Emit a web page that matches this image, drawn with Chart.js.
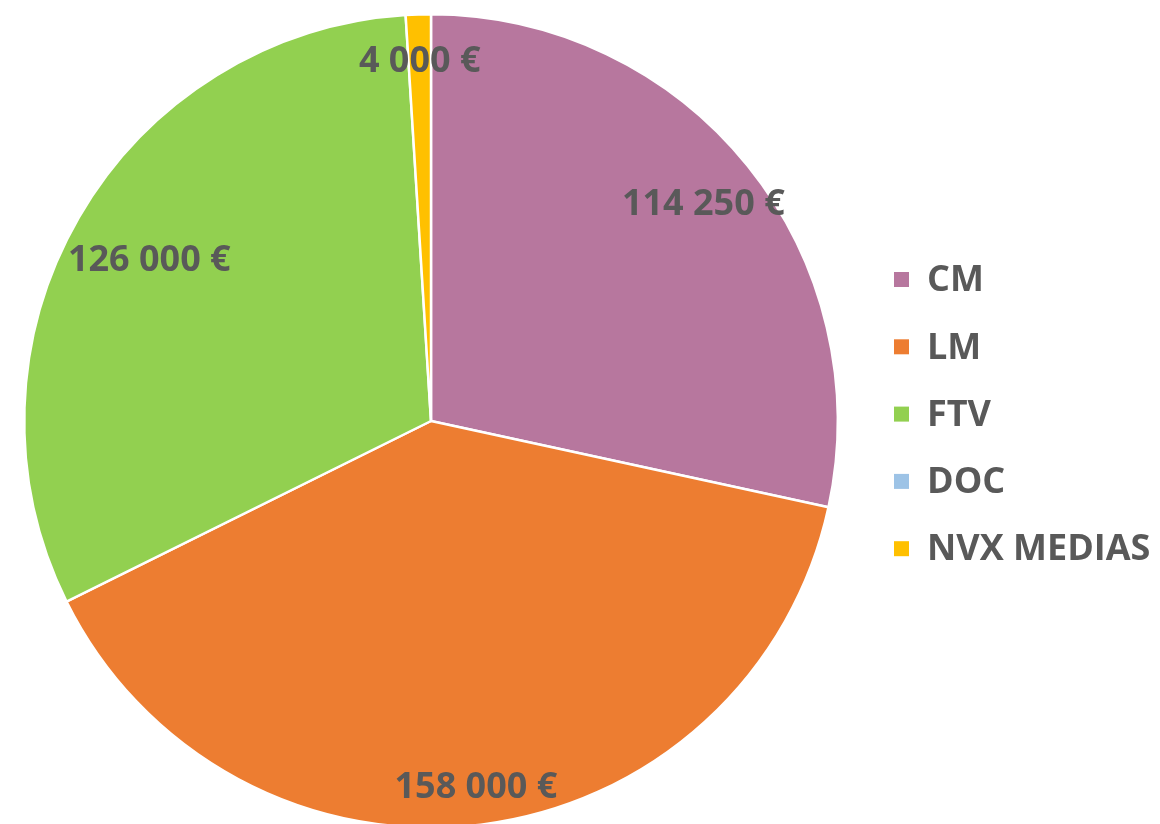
<!DOCTYPE html>
<html>
<head>
<meta charset="utf-8">
<script src="https://cdn.jsdelivr.net/npm/chart.js@4/dist/chart.umd.min.js"></script>
<style>
  html, body { margin: 0; padding: 0; background: #ffffff; overflow: hidden; }
  canvas { display: block; }
</style>
</head>
<body>
<canvas id="chart" width="1160" height="840"></canvas>
<script>
// Données du graphique
const categories = ['CM', 'LM', 'FTV', 'DOC', 'NVX MEDIAS'];
const montants = [114250, 158000, 126000, 0, 4000];
const couleurs = ['#B7779E', '#ED7D31', '#92D050', '#9DC3E6', '#FFC000'];

const texteCouleur = '#595959';
const police = '"Open Sans", "Liberation Sans", sans-serif';

// format "114 250 €"
const formatEuro = v => String(v).replace(/\B(?=(\d{3})+(?!\d))/g, ' ') + ' €';

// étiquettes de données dans les parts
const etiquettesPlugin = {
  id: 'etiquettes',
  afterDatasetsDraw(chart) {
    const ctx = chart.ctx;
    const meta = chart.getDatasetMeta(0);
    const facteurs = [0.86, 0.9, 0.8, 0, 0.89];
    ctx.save();
    ctx.font = 'bold 36px ' + police;
    ctx.fillStyle = texteCouleur;
    ctx.textAlign = 'center';
    ctx.textBaseline = 'middle';
    meta.data.forEach((arc, i) => {
      const v = montants[i];
      if (!v) return;
      const { x, y, startAngle, endAngle, outerRadius } = arc.getProps(['x', 'y', 'startAngle', 'endAngle', 'outerRadius'], true);
      const mid = (startAngle + endAngle) / 2;
      const r = outerRadius * facteurs[i];
      ctx.fillText(formatEuro(v), x + Math.cos(mid) * r, y + Math.sin(mid) * r + 3);
    });
    ctx.restore();
  }
};

// légende à droite
const legendePlugin = {
  id: 'legende',
  afterDraw(chart) {
    const ctx = chart.ctx;
    ctx.save();
    ctx.font = 'bold 36px ' + police;
    ctx.textBaseline = 'middle';
    ctx.textAlign = 'left';
    categories.forEach((nom, i) => {
      const y = 279 + i * 67.3;
      ctx.fillStyle = couleurs[i];
      ctx.fillRect(894, y - 7, 15, 15);
      ctx.fillStyle = texteCouleur;
      ctx.fillText(nom, 927, y + 2);
    });
    ctx.restore();
  }
};

new Chart(document.getElementById('chart').getContext('2d'), {
  type: 'pie',
  data: {
    labels: categories,
    datasets: [{
      data: montants,
      backgroundColor: couleurs,
      borderColor: '#ffffff',
      borderWidth: 2.5
    }]
  },
  options: {
    responsive: false,
    animation: false,
    layout: { padding: { left: 23, top: 13, right: 321, bottom: 11 } },
    plugins: {
      legend: { display: false },
      tooltip: { enabled: false }
    }
  },
  plugins: [etiquettesPlugin, legendePlugin]
});
</script>
</body>
</html>
